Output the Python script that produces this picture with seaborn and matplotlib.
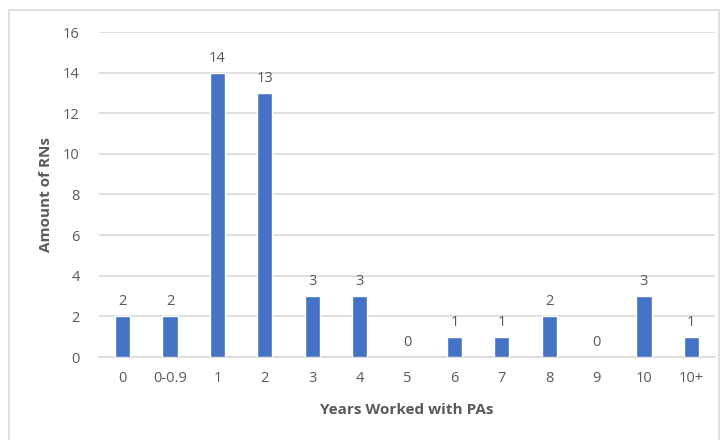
import matplotlib
matplotlib.use("Agg")
import matplotlib.pyplot as plt
import matplotlib.patches as mpatches
import seaborn as sns
import pandas as pd

years = ["0", "0-0.9", "1", "2", "3", "4", "5", "6", "7", "8", "9", "10", "10+"]
counts = [2, 2, 14, 13, 3, 3, 0, 1, 1, 2, 0, 3, 1]
y_ticks = [0, 2, 4, 6, 8, 10, 12, 14, 16]

sns.set_theme(style="white")
plt.rcParams["font.family"] = ["Open Sans", "DejaVu Sans"]

text_color = "#595959"
bar_color = "#4472C4"
grid_color = "#D9D9D9"

df = pd.DataFrame({"Years": years, "Count": counts})

fig = plt.figure(figsize=(7.23, 4.4), dpi=100)
ax = fig.add_axes([99 / 723, 83 / 440, 616 / 723, 325 / 440])

sns.barplot(data=df, x="Years", y="Count", color=bar_color, saturation=1,
            width=0.32, ax=ax, zorder=3)

ax.set_ylim(0, 16)
ax.set_xlim(-0.5, len(years) - 0.5)
ax.set_yticks(y_ticks)
ax.yaxis.grid(True, color=grid_color, linewidth=1.2, zorder=0)
ax.set_axisbelow(True)
for s in ["top", "right", "left"]:
    ax.spines[s].set_visible(False)
ax.spines["bottom"].set_color(grid_color)
ax.spines["bottom"].set_linewidth(1.2)
ax.tick_params(axis="both", length=0, colors=text_color, labelsize=10.5)
ax.tick_params(axis="x", pad=10)
ax.tick_params(axis="y", pad=14)

for i, v in enumerate(counts):
    ax.annotate(str(v), (i, v), xytext=(0, 5), textcoords="offset points",
                ha="center", va="bottom", fontsize=10.5, color=text_color)

ax.set_xlabel("Years Worked with PAs", fontsize=11, fontweight="bold",
              color=text_color, labelpad=12)
ax.set_ylabel("Amount of RNs", fontsize=11, fontweight="bold",
              color=text_color, labelpad=7)

# light frame around the chart area
frame = mpatches.Rectangle((9 / 723, -0.1), 710 / 723, 430 / 440 + 0.1,
                           transform=fig.transFigure, fill=False,
                           edgecolor=grid_color, linewidth=1.2)
fig.patches.append(frame)

fig.savefig("out.png", dpi=100)
